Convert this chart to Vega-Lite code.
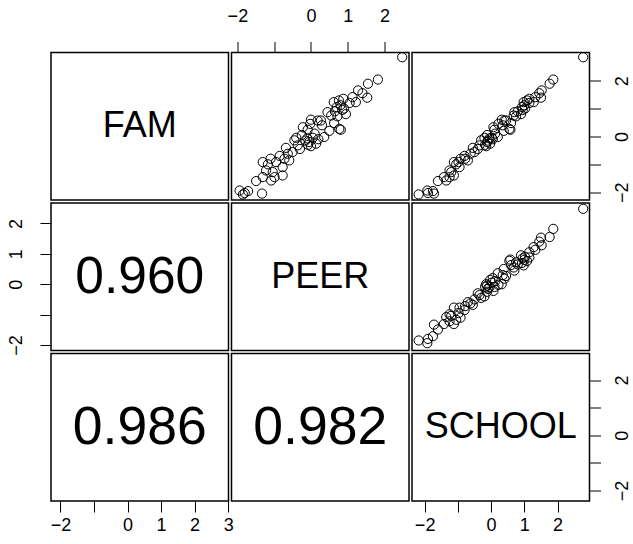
{
  "$schema": "https://vega.github.io/schema/vega-lite/v6.json",
  "background": "white",
  "padding": {"left": 6, "top": 6.5, "right": 5, "bottom": 5},
  "datasets": {
    "eeo": [
      {"FAM": 2.84, "PEER": 2.48, "SCHOOL": 2.77},
      {"FAM": 2.04, "PEER": 1.82, "SCHOOL": 1.87},
      {"FAM": 1.89, "PEER": 1.55, "SCHOOL": 1.76},
      {"FAM": 1.65, "PEER": 1.28, "SCHOOL": 1.52},
      {"FAM": 1.39, "PEER": 1.53, "SCHOOL": 1.50},
      {"FAM": 1.41, "PEER": 1.13, "SCHOOL": 1.33},
      {"FAM": 1.23, "PEER": 1.22, "SCHOOL": 1.28},
      {"FAM": 1.23, "PEER": 0.62, "SCHOOL": 0.98},
      {"FAM": 1.29, "PEER": 0.76, "SCHOOL": 1.08},
      {"FAM": 1.05, "PEER": 0.70, "SCHOOL": 0.93},
      {"FAM": 0.95, "PEER": 0.85, "SCHOOL": 0.95},
      {"FAM": 1.12, "PEER": 0.80, "SCHOOL": 1.00},
      {"FAM": 1.00, "PEER": 0.90, "SCHOOL": 1.02},
      {"FAM": 0.48, "PEER": 0.63, "SCHOOL": 0.60},
      {"FAM": 0.27, "PEER": 0.77, "SCHOOL": 0.55},
      {"FAM": 0.24, "PEER": 0.81, "SCHOOL": 0.58},
      {"FAM": 0.87, "PEER": 0.45, "SCHOOL": 0.70},
      {"FAM": 0.57, "PEER": 0.18, "SCHOOL": 0.40},
      {"FAM": 0.57, "PEER": 0.27, "SCHOOL": 0.45},
      {"FAM": 0.60, "PEER": 0.00, "SCHOOL": 0.32},
      {"FAM": 0.33, "PEER": -0.22, "SCHOOL": 0.07},
      {"FAM": 0.24, "PEER": -0.09, "SCHOOL": 0.10},
      {"FAM": -0.07, "PEER": -0.10, "SCHOOL": -0.05},
      {"FAM": -0.20, "PEER": -0.05, "SCHOOL": -0.12},
      {"FAM": -0.35, "PEER": 0.00, "SCHOOL": -0.15},
      {"FAM": -0.30, "PEER": -0.08, "SCHOOL": -0.18},
      {"FAM": -0.02, "PEER": 0.36, "SCHOOL": 0.20},
      {"FAM": -0.26, "PEER": 0.14, "SCHOOL": -0.03},
      {"FAM": -0.14, "PEER": -0.45, "SCHOOL": -0.30},
      {"FAM": -0.32, "PEER": -0.36, "SCHOOL": -0.35},
      {"FAM": -0.41, "PEER": -0.68, "SCHOOL": -0.55},
      {"FAM": -0.62, "PEER": -0.63, "SCHOOL": -0.62},
      {"FAM": -0.56, "PEER": -0.50, "SCHOOL": -0.50},
      {"FAM": -0.80, "PEER": -0.72, "SCHOOL": -0.78},
      {"FAM": -0.86, "PEER": -0.59, "SCHOOL": -0.70},
      {"FAM": -1.10, "PEER": -0.77, "SCHOOL": -0.95},
      {"FAM": -0.92, "PEER": -0.95, "SCHOOL": -0.98},
      {"FAM": -0.92, "PEER": -1.31, "SCHOOL": -1.12},
      {"FAM": -1.00, "PEER": -1.17, "SCHOOL": -1.05},
      {"FAM": -1.22, "PEER": -1.22, "SCHOOL": -1.25},
      {"FAM": -1.28, "PEER": -1.04, "SCHOOL": -1.20},
      {"FAM": -1.46, "PEER": -0.99, "SCHOOL": -1.25},
      {"FAM": -1.40, "PEER": -0.77, "SCHOOL": -1.12},
      {"FAM": -1.46, "PEER": -1.31, "SCHOOL": -1.42},
      {"FAM": -1.60, "PEER": -1.49, "SCHOOL": -1.60},
      {"FAM": -1.58, "PEER": -1.08, "SCHOOL": -1.35},
      {"FAM": -1.94, "PEER": -1.94, "SCHOOL": -1.92},
      {"FAM": -2.03, "PEER": -1.80, "SCHOOL": -1.90},
      {"FAM": -1.96, "PEER": -1.71, "SCHOOL": -1.75},
      {"FAM": -2.08, "PEER": -1.85, "SCHOOL": -2.18},
      {"FAM": -2.05, "PEER": -1.33, "SCHOOL": -1.72},
      {"FAM": 0.72, "PEER": 0.72, "SCHOOL": 0.75},
      {"FAM": 0.80, "PEER": 0.95, "SCHOOL": 0.90},
      {"FAM": 0.75, "PEER": 0.55, "SCHOOL": 0.68},
      {"FAM": 0.40, "PEER": 0.30, "SCHOOL": 0.35},
      {"FAM": 0.10, "PEER": 0.10, "SCHOOL": 0.12},
      {"FAM": 0.05, "PEER": -0.25, "SCHOOL": -0.12},
      {"FAM": -0.05, "PEER": 0.05, "SCHOOL": 0.02},
      {"FAM": -0.15, "PEER": -0.15, "SCHOOL": -0.10},
      {"FAM": 1.20, "PEER": 1.05, "SCHOOL": 1.15},
      {"FAM": 0.90, "PEER": 0.65, "SCHOOL": 0.80},
      {"FAM": -0.45, "PEER": -0.30, "SCHOOL": -0.40},
      {"FAM": -0.70, "PEER": -0.85, "SCHOOL": -0.80},
      {"FAM": -0.10, "PEER": 0.20, "SCHOOL": 0.05},
      {"FAM": 1.55, "PEER": 1.40, "SCHOOL": 1.45},
      {"FAM": -0.05, "PEER": -0.40, "SCHOOL": -0.20},
      {"FAM": 0.20, "PEER": 0.50, "SCHOOL": 0.38},
      {"FAM": -0.80, "PEER": -1.10, "SCHOOL": -0.92},
      {"FAM": 1.35, "PEER": 0.88, "SCHOOL": 1.15},
      {"FAM": 0.45, "PEER": -0.02, "SCHOOL": 0.22}
    ]
  },
  "concat": [
    {
      "width": 177.5, "height": 147.5,
      "layer": [
        {
          "data": {"values": [{"name": "FAM"}]},
          "mark": {"type": "text", "font": "Liberation Sans", "fontSize": 36, "color": "black", "baseline": "middle", "dy": 0},
          "encoding": {"text": {"field": "name"}}
        },
        {
          "data": {"name": "eeo"},
          "mark": {"type": "point", "opacity": 0},
          "encoding": {
            "x": {"field": "FAM", "type": "quantitative", "scale": {"domain": [-2.28, 3.01], "nice": false, "zero": false}, "axis": null},
            "y": {"field": "FAM", "type": "quantitative", "scale": {"domain": [-2.28, 3.01], "nice": false, "zero": false}, "axis": null}
          }
        }
      ]
    },
    {
      "width": 177.5, "height": 147.5,
      "data": {"name": "eeo"},
      "mark": {"type": "point", "shape": "circle", "filled": false, "stroke": "black", "strokeWidth": 1, "size": 85, "opacity": 1},
      "encoding": {
        "x": {"field": "PEER", "type": "quantitative", "scale": {"domain": [-2.16, 2.665], "nice": false, "zero": false},
              "axis": {"orient": "top", "values": [-2, -1, 0, 1, 2], "labelExpr": "datum.value == -1 ? '' : datum.label", "labelPadding": 16}},
        "y": {"field": "FAM", "type": "quantitative", "scale": {"domain": [-2.28, 3.01], "nice": false, "zero": false}, "axis": null}
      }
    },
    {
      "width": 177.5, "height": 147.5,
      "data": {"name": "eeo"},
      "mark": {"type": "point", "shape": "circle", "filled": false, "stroke": "black", "strokeWidth": 1, "size": 85, "opacity": 1},
      "encoding": {
        "x": {"field": "SCHOOL", "type": "quantitative", "scale": {"domain": [-2.38, 2.96], "nice": false, "zero": false}, "axis": null},
        "y": {"field": "FAM", "type": "quantitative", "scale": {"domain": [-2.28, 3.01], "nice": false, "zero": false},
              "axis": {"orient": "right", "values": [-2, -1, 0, 1, 2], "labelExpr": "(datum.value == -1 || datum.value == 1) ? '' : datum.label", "labelAngle": 270, "labelAlign": "center", "labelBaseline": "top", "labelPadding": 13}}
      }
    },
    {
      "width": 177.5, "height": 147.5,
      "layer": [
        {
          "data": {"values": [{"r": "0.960"}]},
          "mark": {"type": "text", "font": "Liberation Sans", "fontSize": 51.5, "color": "black", "baseline": "middle", "dy": 1},
          "encoding": {"text": {"field": "r"}}
        },
        {
          "data": {"name": "eeo"},
          "mark": {"type": "point", "opacity": 0},
          "encoding": {
            "y": {"field": "PEER", "type": "quantitative", "scale": {"domain": [-2.18, 2.67], "nice": false, "zero": false},
                  "axis": {"orient": "left", "values": [-2, -1, 0, 1, 2], "labelExpr": "datum.value == -1 ? '' : datum.label", "labelAngle": 270, "labelAlign": "center", "labelBaseline": "bottom", "labelPadding": 15}}
          }
        }
      ]
    },
    {
      "width": 177.5, "height": 147.5,
      "layer": [
        {
          "data": {"values": [{"name": "PEER"}]},
          "mark": {"type": "text", "font": "Liberation Sans", "fontSize": 36, "color": "black", "baseline": "middle", "dy": 0},
          "encoding": {"text": {"field": "name"}}
        },
        {
          "data": {"name": "eeo"},
          "mark": {"type": "point", "opacity": 0},
          "encoding": {
            "x": {"field": "PEER", "type": "quantitative", "scale": {"domain": [-2.16, 2.665], "nice": false, "zero": false}, "axis": null},
            "y": {"field": "PEER", "type": "quantitative", "scale": {"domain": [-2.18, 2.67], "nice": false, "zero": false}, "axis": null}
          }
        }
      ]
    },
    {
      "width": 177.5, "height": 147.5,
      "data": {"name": "eeo"},
      "mark": {"type": "point", "shape": "circle", "filled": false, "stroke": "black", "strokeWidth": 1, "size": 85, "opacity": 1},
      "encoding": {
        "x": {"field": "SCHOOL", "type": "quantitative", "scale": {"domain": [-2.38, 2.96], "nice": false, "zero": false}, "axis": null},
        "y": {"field": "PEER", "type": "quantitative", "scale": {"domain": [-2.18, 2.67], "nice": false, "zero": false}, "axis": null}
      }
    },
    {
      "width": 177.5, "height": 147.5,
      "layer": [
        {
          "data": {"values": [{"r": "0.986"}]},
          "mark": {"type": "text", "font": "Liberation Sans", "fontSize": 53.5, "color": "black", "baseline": "middle", "dy": 1},
          "encoding": {"text": {"field": "r"}}
        },
        {
          "data": {"name": "eeo"},
          "mark": {"type": "point", "opacity": 0},
          "encoding": {
            "x": {"field": "FAM", "type": "quantitative", "scale": {"domain": [-2.28, 3.01], "nice": false, "zero": false},
                  "axis": {"orient": "bottom", "values": [-2, -1, 0, 1, 2, 3], "labelExpr": "datum.value == -1 ? '' : datum.label", "labelPadding": 4.5}}
          }
        }
      ]
    },
    {
      "width": 177.5, "height": 147.5,
      "layer": [
        {
          "data": {"values": [{"r": "0.982"}]},
          "mark": {"type": "text", "font": "Liberation Sans", "fontSize": 53.5, "color": "black", "baseline": "middle", "dy": 1},
          "encoding": {"text": {"field": "r"}}
        },
        {
          "data": {"name": "eeo"},
          "mark": {"type": "point", "opacity": 0},
          "encoding": {
            "x": {"field": "PEER", "type": "quantitative", "scale": {"domain": [-2.16, 2.665], "nice": false, "zero": false}, "axis": null},
            "y": {"field": "SCHOOL", "type": "quantitative", "scale": {"domain": [-2.38, 2.96], "nice": false, "zero": false}, "axis": null}
          }
        }
      ]
    },
    {
      "width": 177.5, "height": 147.5,
      "layer": [
        {
          "data": {"values": [{"name": "SCHOOL"}]},
          "mark": {"type": "text", "font": "Liberation Sans", "fontSize": 36, "color": "black", "baseline": "middle", "dy": 0},
          "encoding": {"text": {"field": "name"}}
        },
        {
          "data": {"name": "eeo"},
          "mark": {"type": "point", "opacity": 0},
          "encoding": {
            "x": {"field": "SCHOOL", "type": "quantitative", "scale": {"domain": [-2.38, 2.96], "nice": false, "zero": false},
                  "axis": {"orient": "bottom", "values": [-2, -1, 0, 1, 2], "labelExpr": "datum.value == -1 ? '' : datum.label", "labelPadding": 4.5}},
            "y": {"field": "SCHOOL", "type": "quantitative", "scale": {"domain": [-2.38, 2.96], "nice": false, "zero": false},
                  "axis": {"orient": "right", "values": [-2, -1, 0, 1, 2], "labelExpr": "(datum.value == -1 || datum.value == 1) ? '' : datum.label", "labelAngle": 270, "labelAlign": "center", "labelBaseline": "top", "labelPadding": 13}}
          }
        }
      ]
    }
  ],
  "columns": 3,
  "spacing": 2.5,
  "bounds": "flush",
  "resolve": {"scale": {"x": "independent", "y": "independent"}},
  "config": {
    "view": {"stroke": "black", "strokeWidth": 1.5},
    "axis": {
      "grid": false, "domain": false, "title": null,
      "tickColor": "black", "tickSize": 11, "tickWidth": 1,
      "labelColor": "black", "labelFont": "Liberation Sans", "labelFontSize": 18,
      "labelOverlap": false, "labelFlush": false
    }
  }
}
